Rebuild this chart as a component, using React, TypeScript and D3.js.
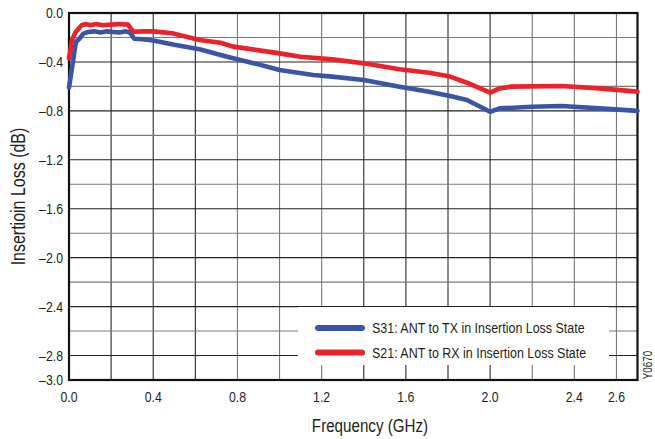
import React from "react";
import * as d3 from "d3";

// Frequency sweep (GHz) and measured insertion loss (dB) for each path
const s31Freq = [0, 0.033, 0.05, 0.067, 0.09, 0.12, 0.15, 0.18, 0.21, 0.24, 0.27, 0.29, 0.31, 0.35, 0.4, 0.5, 0.62, 0.72, 0.78, 0.9, 1.0, 1.16, 1.25, 1.4, 1.57, 1.71, 1.81, 1.89, 2.0, 2.045, 2.2, 2.34, 2.52, 2.7];
const s31Loss = [-0.61, -0.235, -0.21, -0.17, -0.155, -0.15, -0.16, -0.15, -0.155, -0.16, -0.15, -0.16, -0.21, -0.215, -0.225, -0.26, -0.297, -0.343, -0.37, -0.42, -0.466, -0.507, -0.52, -0.548, -0.602, -0.643, -0.679, -0.711, -0.807, -0.78, -0.766, -0.76, -0.78, -0.8];

const s21Freq = [0, 0.015, 0.03, 0.06, 0.08, 0.1, 0.13, 0.16, 0.2, 0.24, 0.28, 0.305, 0.35, 0.4, 0.49, 0.62, 0.72, 0.78, 1.0, 1.1, 1.25, 1.4, 1.57, 1.71, 1.81, 1.89, 2.0, 2.045, 2.1, 2.34, 2.52, 2.7];
const s21Loss = [-0.37, -0.22, -0.16, -0.1, -0.09, -0.1, -0.09, -0.1, -0.095, -0.09, -0.095, -0.153, -0.15, -0.15, -0.166, -0.22, -0.243, -0.275, -0.33, -0.357, -0.379, -0.411, -0.46, -0.488, -0.52, -0.57, -0.651, -0.616, -0.602, -0.597, -0.616, -0.643];

const xTickLabels = ["0.0", "0.4", "0.8", "1.2", "1.6", "2.0", "2.4", "2.6"];
const yTickLabels = ["0.0", "–0.4", "–0.8", "–1.2", "–1.6", "–2.0", "–2.4", "–2.8", "–3.0"];
const seriesNames = ["S31: ANT to TX in Insertion Loss State", "S21: ANT to RX in Insertion Loss State"];
const seriesColors = ["#3a55a6", "#ec2129"];

const W = 655;
const H = 439;
const plot = { left: 69, right: 637.5, top: 13, bottom: 380 };
const FONT = "'Liberation Sans', Arial, sans-serif";
const NARROW = 0.82;

type LabelProps = {
  x: number;
  y: number;
  size: number;
  anchor?: "start" | "middle" | "end";
  rotate?: number;
  children: React.ReactNode;
};

// Condensed label: regular sans squeezed horizontally along its baseline
function Label({ x, y, size, anchor = "start", rotate = 0, children }: LabelProps) {
  return (
    <text
      transform={`translate(${x}, ${y}) rotate(${rotate}) scale(${NARROW}, 1)`}
      dy="0.36em"
      textAnchor={anchor}
      fontFamily={FONT}
      fontSize={size}
      fill="#231f20"
    >
      {children}
    </text>
  );
}

export default function App() {
  const x = d3.scaleLinear().domain([0, 2.7]).range([plot.left, plot.right]);
  const y = d3.scaleLinear().domain([0, -3]).range([plot.top, plot.bottom]);

  const line = d3
    .line<[number, number]>()
    .x((d) => x(d[0]))
    .y((d) => y(d[1]))
    .curve(d3.curveLinear);

  const s31 = s31Freq.map((f, i) => [f, s31Loss[i]] as [number, number]);
  const s21 = s21Freq.map((f, i) => [f, s21Loss[i]] as [number, number]);

  const vGrid = d3.range(1, 14).map((i) => +(i * 0.2).toFixed(1));
  const hGrid = d3.range(1, 15).map((i) => -+(i * 0.2).toFixed(1));
  const darkV = new Set([0.2, 0.4, 0.6, 1.4, 1.6, 1.8, 2.0]);

  const parseLabel = (s: string) => +s.replace("–", "-");

  // legend box geometry
  const lg = { x0: 298, x1: 609, y0: 307, y1: 365 };

  return (
    <svg
      width={W}
      height={H}
      viewBox={`0 0 ${W} ${H}`}
      style={{ position: "absolute", left: 0, top: 0, background: "#fff" }}
    >
      <rect x={0} y={0} width={W} height={H} fill="#fff" />

      {/* grid */}
      {vGrid.map((v) => (
        <line
          key={"v" + v}
          x1={x(v)}
          x2={x(v)}
          y1={plot.top}
          y2={plot.bottom}
          stroke={darkV.has(v) ? "#2a2a2a" : "#777"}
          strokeWidth={1.1}
        />
      ))}
      {hGrid.map((v, i) => (
        <line
          key={"h" + v}
          x1={plot.left}
          x2={plot.right}
          y1={y(v)}
          y2={y(v)}
          stroke={i % 2 === 1 ? "#222" : "#7a7a7a"}
          strokeWidth={1.1}
        />
      ))}

      {/* legend backdrop */}
      <rect x={lg.x0} y={lg.y0} width={lg.x1 - lg.x0} height={lg.y1 - lg.y0} fill="#fff" />

      {/* frame */}
      <rect
        x={plot.left}
        y={plot.top}
        width={plot.right - plot.left}
        height={plot.bottom - plot.top}
        fill="none"
        stroke="#111"
        strokeWidth={2.2}
      />

      {/* curves */}
      <path d={line(s31) ?? ""} fill="none" stroke={seriesColors[0]} strokeWidth={4.6} strokeLinejoin="round" strokeLinecap="round" />
      <path d={line(s21) ?? ""} fill="none" stroke={seriesColors[1]} strokeWidth={4.6} strokeLinejoin="round" strokeLinecap="round" />

      {/* legend */}
      {seriesNames.map((name, i) => {
        const cy = 328 + i * 24.5;
        return (
          <g key={name}>
            <line x1={318} x2={362} y1={cy} y2={cy} stroke={seriesColors[i]} strokeWidth={6} strokeLinecap="round" />
            <Label x={372} y={cy} size={15.2}>
              {name}
            </Label>
          </g>
        );
      })}

      {/* y tick labels */}
      {yTickLabels.map((s) => (
        <Label key={"yl" + s} x={63} y={y(parseLabel(s))} size={15} anchor="end">
          {s}
        </Label>
      ))}

      {/* x tick labels */}
      {xTickLabels.map((s) => (
        <Label key={"xl" + s} x={x(+s)} y={397} size={15} anchor="middle">
          {s}
        </Label>
      ))}

      {/* axis titles */}
      <Label x={370} y={425} size={18.5} anchor="middle">
        Frequency (GHz)
      </Label>
      <Label x={18} y={(plot.top + plot.bottom) / 2} size={19.5} anchor="middle" rotate={-90}>
        Insertioin Loss (dB)
      </Label>

      {/* figure id */}
      <Label x={648} y={365} size={12} anchor="middle" rotate={-90}>
        Y0670
      </Label>
    </svg>
  );
}
